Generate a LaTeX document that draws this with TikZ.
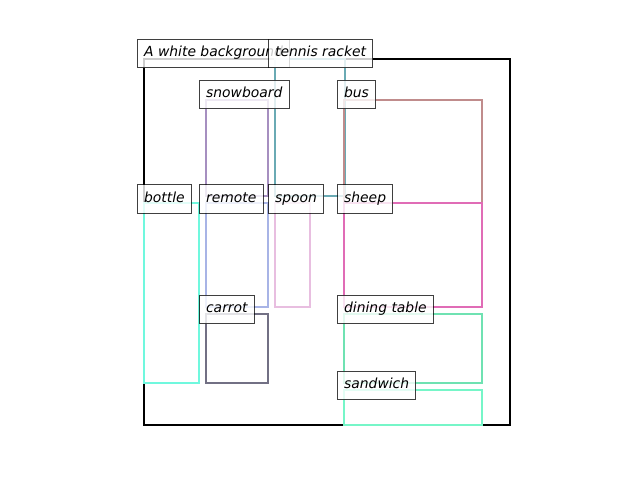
\documentclass[tikz,border=0pt]{standalone}
\usepackage{fontspec}
\setmainfont{DejaVu Sans}
\begin{document}
\begin{tikzpicture}[x=1pt,y=-1pt,
  bbox/.style={line width=2.6pt, line join=miter},
  lab/.style={draw=black, draw opacity=0.75, line width=1pt, fill=white, fill opacity=0.8, text opacity=1,
    anchor=south west, inner xsep=6.6pt, inner ysep=0pt, text height=17.5pt, text depth=11pt,
    font=\fontsize{13.9}{16}\selectfont\itshape}]
\definecolor{cblack}{HTML}{000000}
\definecolor{csnow}{HTML}{A68FC0}
\definecolor{ctennis}{HTML}{6AAAB4}
\definecolor{cbus}{HTML}{C08C8C}
\definecolor{csheep}{HTML}{E06CB6}
\definecolor{cdining}{HTML}{6FE2B2}
\definecolor{csand}{HTML}{76F6C8}
\definecolor{cbottle}{HTML}{70F8DE}
\definecolor{cremote}{HTML}{A8B4E6}
\definecolor{cspoon}{HTML}{E8BEE0}
\definecolor{ccarrot}{HTML}{727084}
\useasboundingbox (0,0) rectangle (640,480);
% boxes
\draw[bbox, cblack] (144,59) rectangle (510,425);
\draw[bbox, ctennis] (275,59) rectangle (345,196);
\draw[bbox, csnow] (206,100) rectangle (268,196);
\draw[bbox, cbus] (344,100) rectangle (482,203);
\draw[bbox, cbottle] (144,203) rectangle (199,383);
\draw[bbox, cremote] (206,203) rectangle (268,307);
\draw[bbox, cspoon] (275,203) rectangle (310,307);
\draw[bbox, csheep] (344,203) rectangle (482,307);
\draw[bbox, ccarrot] (206,314) rectangle (268,383);
\draw[bbox, cdining] (344,314) rectangle (482,383);
\draw[bbox, csand] (344,390) rectangle (482,425);
% labels
\node[lab] (lbg) at (137,68) {A white background};
\node[lab] (ltennis) at (268,68) {tennis racket};
\node[lab] (lsnow) at (199,109) {snowboard};
\node[lab] (lbus) at (337,109) {bus};
\node[lab] (lbottle) at (137,213.5) {bottle};
\node[lab] (lremote) at (199,213.5) {remote};
\node[lab] (lspoon) at (268,213.5) {spoon};
\node[lab] (lsheep) at (337,213.5) {sheep};
\node[lab] (lcarrot) at (199,324) {carrot};
\node[lab] (ldining) at (337,324) {dining table};
\node[lab] (lsand) at (337,400) {sandwich};
\end{tikzpicture}
\end{document}
